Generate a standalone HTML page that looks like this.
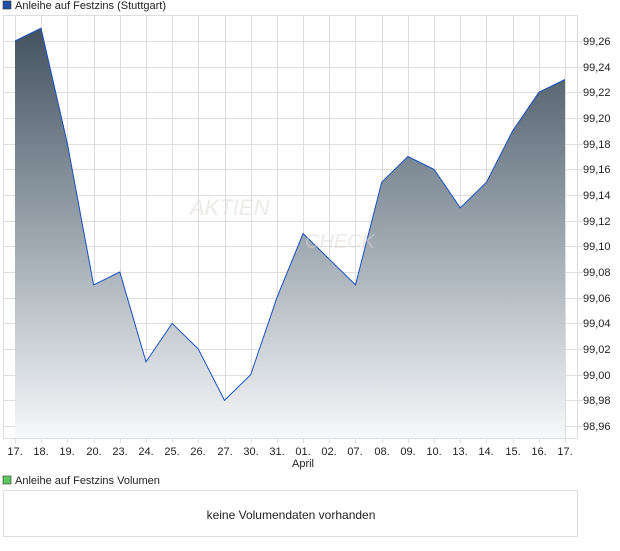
<!DOCTYPE html>
<html><head><style>
body{margin:0;background:#fff;font-family:"Liberation Sans",sans-serif;}
</style></head><body>
<svg width="620" height="546" xmlns="http://www.w3.org/2000/svg" font-family="Liberation Sans, sans-serif">
<defs>
<linearGradient id="g" gradientUnits="userSpaceOnUse" x1="0" y1="28" x2="0" y2="438">
<stop offset="0" stop-color="#44525f"/>
<stop offset="0.5" stop-color="#9aa5ae"/>
<stop offset="1" stop-color="#f7f8f9"/>
</linearGradient>
</defs>
<rect x="3" y="1" width="8" height="8" fill="#1f4fa8" stroke="#333" stroke-width="0.6"/>
<text x="15" y="9" font-size="11" fill="#222">Anleihe auf Festzins (Stuttgart)</text>
<rect x="3.5" y="15.5" width="574" height="423" fill="#fff" stroke="#ddd"/>
<g stroke="#dedede" stroke-width="1">
<line x1="3" y1="41.5" x2="583" y2="41.5"/><line x1="3" y1="67.5" x2="583" y2="67.5"/><line x1="3" y1="92.5" x2="583" y2="92.5"/><line x1="3" y1="118.5" x2="583" y2="118.5"/><line x1="3" y1="144.5" x2="583" y2="144.5"/><line x1="3" y1="169.5" x2="583" y2="169.5"/><line x1="3" y1="195.5" x2="583" y2="195.5"/><line x1="3" y1="221.5" x2="583" y2="221.5"/><line x1="3" y1="246.5" x2="583" y2="246.5"/><line x1="3" y1="272.5" x2="583" y2="272.5"/><line x1="3" y1="298.5" x2="583" y2="298.5"/><line x1="3" y1="323.5" x2="583" y2="323.5"/><line x1="3" y1="349.5" x2="583" y2="349.5"/><line x1="3" y1="375.5" x2="583" y2="375.5"/><line x1="3" y1="400.5" x2="583" y2="400.5"/><line x1="3" y1="426.5" x2="583" y2="426.5"/>
<line x1="15.5" y1="15" x2="15.5" y2="443"/><line x1="41.5" y1="15" x2="41.5" y2="443"/><line x1="67.5" y1="15" x2="67.5" y2="443"/><line x1="94.5" y1="15" x2="94.5" y2="443"/><line x1="120.5" y1="15" x2="120.5" y2="443"/><line x1="146.5" y1="15" x2="146.5" y2="443"/><line x1="172.5" y1="15" x2="172.5" y2="443"/><line x1="198.5" y1="15" x2="198.5" y2="443"/><line x1="225.5" y1="15" x2="225.5" y2="443"/><line x1="251.5" y1="15" x2="251.5" y2="443"/><line x1="277.5" y1="15" x2="277.5" y2="443"/><line x1="303.5" y1="15" x2="303.5" y2="443"/><line x1="329.5" y1="15" x2="329.5" y2="443"/><line x1="355.5" y1="15" x2="355.5" y2="443"/><line x1="382.5" y1="15" x2="382.5" y2="443"/><line x1="408.5" y1="15" x2="408.5" y2="443"/><line x1="434.5" y1="15" x2="434.5" y2="443"/><line x1="460.5" y1="15" x2="460.5" y2="443"/><line x1="486.5" y1="15" x2="486.5" y2="443"/><line x1="513.5" y1="15" x2="513.5" y2="443"/><line x1="539.5" y1="15" x2="539.5" y2="443"/><line x1="565.5" y1="15" x2="565.5" y2="443"/>
</g>
<path d="M15,41 L41,28.2 L67.4,143.7 L93.6,284.9 L119.8,272 L146,361.9 L172.1,323.4 L198.3,349 L224.5,400.4 L250.7,374.7 L276.9,297.7 L303.1,233.5 L329.3,259.2 L355.5,284.9 L381.7,182.2 L407.9,156.5 L434.1,169.4 L460.3,207.9 L486.5,182.2 L512.7,130.8 L538.9,92.3 L565,79.5 L565,438 L15,438 Z" fill="url(#g)"/>
<path d="M15,41 L41,28.2 L67.4,143.7 L93.6,284.9 L119.8,272 L146,361.9 L172.1,323.4 L198.3,349 L224.5,400.4 L250.7,374.7 L276.9,297.7 L303.1,233.5 L329.3,259.2 L355.5,284.9 L381.7,182.2 L407.9,156.5 L434.1,169.4 L460.3,207.9 L486.5,182.2 L512.7,130.8 L538.9,92.3 L565,79.5" fill="none" stroke="#1a4fc0" stroke-width="1"/>
<text x="190" y="215" font-size="22" fill="#e0d6d6" opacity="0.5" font-style="italic">AKTIEN</text>
<text x="305" y="248" font-size="20" fill="#e0d6d6" opacity="0.5" font-style="italic">CHECK</text>
<g font-size="11" fill="#222">
<text x="583" y="45">99,26</text><text x="583" y="71">99,24</text><text x="583" y="96">99,22</text><text x="583" y="122">99,20</text><text x="583" y="148">99,18</text><text x="583" y="173">99,16</text><text x="583" y="199">99,14</text><text x="583" y="225">99,12</text><text x="583" y="250">99,10</text><text x="583" y="276">99,08</text><text x="583" y="302">99,06</text><text x="583" y="327">99,04</text><text x="583" y="353">99,02</text><text x="583" y="379">99,00</text><text x="583" y="404">98,98</text><text x="583" y="430">98,96</text>
</g>
<g font-size="11" fill="#222" text-anchor="middle">
<text x="15" y="455">17.</text><text x="41" y="455">18.</text><text x="67" y="455">19.</text><text x="94" y="455">20.</text><text x="120" y="455">23.</text><text x="146" y="455">24.</text><text x="172" y="455">25.</text><text x="198" y="455">26.</text><text x="225" y="455">27.</text><text x="251" y="455">30.</text><text x="277" y="455">31.</text><text x="303" y="455">01.</text><text x="329" y="455">02.</text><text x="355" y="455">07.</text><text x="382" y="455">08.</text><text x="408" y="455">09.</text><text x="434" y="455">10.</text><text x="460" y="455">13.</text><text x="486" y="455">14.</text><text x="513" y="455">15.</text><text x="539" y="455">16.</text><text x="565" y="455">17.</text>
<text x="303" y="467">April</text>
</g>
<rect x="3" y="476" width="8" height="8" fill="#5cc85c" stroke="#333" stroke-width="0.6"/>
<text x="15" y="484" font-size="11" fill="#222">Anleihe auf Festzins Volumen</text>
<rect x="3.5" y="490.5" width="574" height="46" fill="#fff" stroke="#ddd"/>
<text x="291" y="519" font-size="12" fill="#222" text-anchor="middle">keine Volumendaten vorhanden</text>
</svg>
</body></html>
